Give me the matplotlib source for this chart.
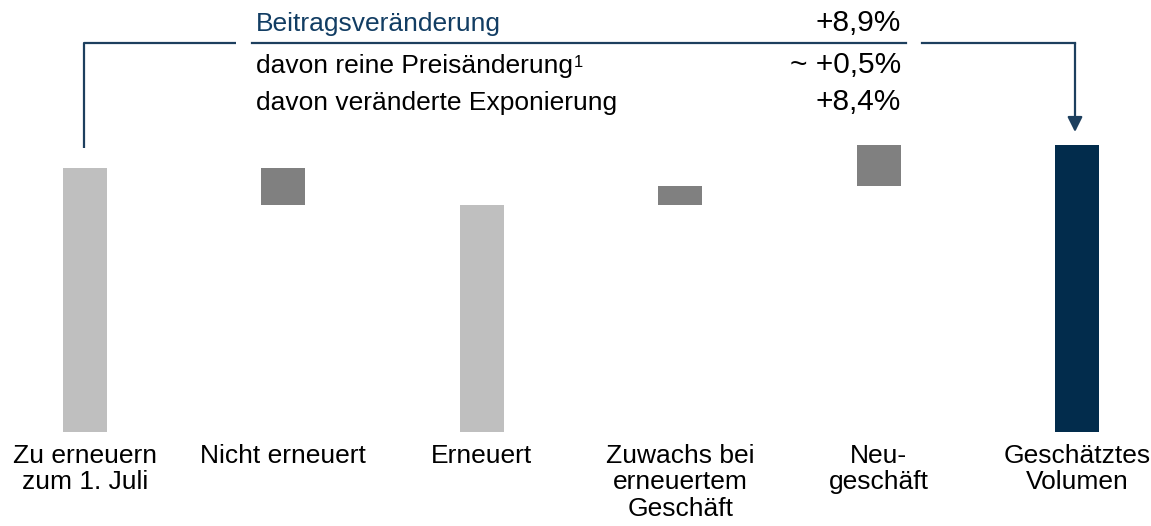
import numpy as np
import matplotlib
matplotlib.use("Agg")
import matplotlib.pyplot as plt

plt.rcParams['font.family'] = ['Liberation Sans', 'DejaVu Sans']

# Daten (Index, 100 = zu erneuern zum 1. Juli)
kategorien = ["Zu erneuern\nzum 1. Juli", "Nicht erneuert", "Erneuert",
              "Zuwachs bei\nerneuertem\nGeschäft", "Neu-\ngeschäft", "Geschätztes\nVolumen"]
start = 100.0
nicht_erneuert = -14.0
zuwachs = 7.0
neugeschaeft = 15.9

kopf_texte = ["Beitragsveränderung", "davon reine Preisänderung", "davon veränderte Exponierung"]
kopf_werte = ["+8,9%", "~ +0,5%", "+8,4%"]

hellgrau = "#bfbfbf"
dunkelgrau = "#808080"
navy = "#022c4c"
linie = "#1d3f5e"

erneuert = start + nicht_erneuert
ende = erneuert + zuwachs + neugeschaeft

unten = [0, erneuert, 0, erneuert, erneuert + zuwachs, 0]
hoehe = [start, -nicht_erneuert, erneuert, zuwachs, neugeschaeft, ende]
farben = [hellgrau, dunkelgrau, hellgrau, dunkelgrau, dunkelgrau, navy]

fig = plt.figure(figsize=(11.51, 5.26), dpi=100)
ax = fig.add_axes([0, 0, 1, 1])
x = np.arange(len(kategorien))

# Pixel -> Datenkoordinaten
px_pro_x = 198.4
px_pro_y = 2.64
x0_px, y0_px = 85, 432
ax.set_xlim(-x0_px / px_pro_x, (1151 - x0_px) / px_pro_x)
ax.set_ylim(-(526 - y0_px) / px_pro_y, y0_px / px_pro_y)
ax.axis('off')

def px(xp, yp):
    return (xp - x0_px) / px_pro_x, (y0_px - yp) / px_pro_y

ax.bar(x, hoehe, bottom=unten, width=0.222, color=farben)

# Kategorienbeschriftung
for xi, lab in zip(x, kategorien):
    ax.text(xi, px(0, 444)[1], lab, ha='center', va='top', fontsize=19,
            linespacing=1.12, color='black')

# Verbindungslinie mit Pfeil
ylin = px(0, 43)[1]
xa, ya = px(84, 148)
xb, _ = px(236, 0)
ax.plot([xa, xa, xb], [ya, ylin, ylin], color=linie, lw=1.6, solid_capstyle='butt')
xc, _ = px(252, 0)
xd, _ = px(906, 0)
ax.plot([xc, xd], [ylin, ylin], color=linie, lw=1.6)
xe, _ = px(922, 0)
xv = px(1075, 0)[0]
ax.plot([xe, xv], [ylin, ylin], color=linie, lw=1.6)
ax.annotate("", xy=(xv, px(0, 132)[1]), xytext=(xv, ylin),
            arrowprops=dict(arrowstyle='-|>,head_length=0.9,head_width=0.45',
                            color=linie, lw=1.6, shrinkA=0, shrinkB=0))

# Kopftabelle
zeilen_y = [31, 73, 110]
for i, (t, w) in enumerate(zip(kopf_texte, kopf_werte)):
    yy = px(0, zeilen_y[i])[1]
    col = "#123d63" if i == 0 else "black"
    txt = ax.text(px(256, 0)[0], yy, t, ha='left', va='baseline', fontsize=19, color=col)
    ax.text(px(901, 0)[0], yy, w, ha='right', va='baseline', fontsize=21.5, color='black')
    if i == 1:
        ax.annotate("1", xy=(1, 1), xycoords=txt, xytext=(0.5, -1),
                    textcoords='offset points', ha='left', va='top', fontsize=12)

fig.savefig("out.png", dpi=100)
